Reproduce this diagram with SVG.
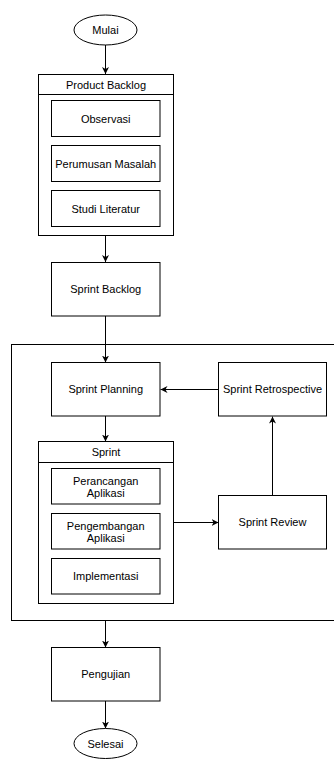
<svg xmlns="http://www.w3.org/2000/svg" width="334" height="760" viewBox="0 0 334 760">
  <defs>
    <style>
      .box { fill: #ffffff; stroke: #000000; stroke-width: 1; }
      .frame { fill: none; stroke: #000000; stroke-width: 1; }
      .edge { fill: none; stroke: #000000; stroke-width: 1; }
      .label { font-family: "Liberation Sans", Arial, sans-serif; font-size: 11px; fill: #000000; text-anchor: middle; dominant-baseline: central; }
    </style>
    <marker id="arrow" viewBox="0 0 10 10" refX="10" refY="5" markerWidth="7" markerHeight="7" markerUnits="userSpaceOnUse" orient="auto">
      <path d="M0,0 L10,5 L0,10 L3,5 z" fill="#000000"/>
    </marker>
  </defs>

  <rect width="334" height="760" fill="#ffffff"/>

  <!-- outer sprint cycle frame (runs past the right edge) -->
  <g id="sprint-cycle">
    <rect class="frame" x="11.5" y="344.5" width="340" height="276"/>
  </g>

  <!-- connectors -->
  <g id="connectors">
    <line class="edge" x1="105.5" y1="45" x2="105.5" y2="74" marker-end="url(#arrow)"/>
    <line class="edge" x1="105.5" y1="236" x2="105.5" y2="262" marker-end="url(#arrow)"/>
    <line class="edge" x1="105.5" y1="316" x2="105.5" y2="362.5" marker-end="url(#arrow)"/>
    <line class="edge" x1="218.5" y1="389.5" x2="160.5" y2="389.5" marker-end="url(#arrow)"/>
    <line class="edge" x1="105.5" y1="416" x2="105.5" y2="441.5" marker-end="url(#arrow)"/>
    <line class="edge" x1="173.5" y1="522.5" x2="218.5" y2="522.5" marker-end="url(#arrow)"/>
    <line class="edge" x1="272.5" y1="495" x2="272.5" y2="416.5" marker-end="url(#arrow)"/>
    <line class="edge" x1="105.5" y1="621" x2="105.5" y2="647.5" marker-end="url(#arrow)"/>
    <line class="edge" x1="105.5" y1="701" x2="105.5" y2="728.5" marker-end="url(#arrow)"/>
  </g>

  <g id="mulai">
    <ellipse class="box" cx="105.5" cy="30" rx="31.5" ry="15"/>
    <text class="label" x="105.5" y="30">Mulai</text>
  </g>

  <g id="product-backlog">
    <rect class="box" x="38.5" y="74.5" width="135" height="161"/>
    <line class="frame" x1="38.5" y1="94.5" x2="173.5" y2="94.5"/>
    <text class="label" x="106" y="84.5">Product Backlog</text>
  </g>
  <g id="observasi">
    <rect class="box" x="51.5" y="100.5" width="108.5" height="36"/>
    <text class="label" x="105.7" y="118.5">Observasi</text>
  </g>
  <g id="perumusan-masalah">
    <rect class="box" x="51.5" y="145.5" width="108.5" height="36"/>
    <text class="label" x="105.7" y="163.5">Perumusan Masalah</text>
  </g>
  <g id="studi-literatur">
    <rect class="box" x="51.5" y="190.5" width="108.5" height="36"/>
    <text class="label" x="105.7" y="208.5">Studi Literatur</text>
  </g>

  <g id="sprint-backlog">
    <rect class="box" x="51.5" y="262.5" width="108.5" height="53.5"/>
    <text class="label" x="105.7" y="289.3">Sprint Backlog</text>
  </g>

  <g id="sprint-planning">
    <rect class="box" x="51.5" y="362.5" width="108.5" height="53.5"/>
    <text class="label" x="105.7" y="389.3">Sprint Planning</text>
  </g>

  <g id="sprint-retrospective">
    <rect class="box" x="218.5" y="362.5" width="108" height="53.5"/>
    <text class="label" x="272.5" y="389.3">Sprint Retrospective</text>
  </g>

  <g id="sprint">
    <rect class="box" x="38.5" y="441.5" width="135" height="162"/>
    <line class="frame" x1="38.5" y1="462.5" x2="173.5" y2="462.5"/>
    <text class="label" x="106" y="452">Sprint</text>
  </g>
  <g id="perancangan-aplikasi">
    <rect class="box" x="51.5" y="468.5" width="108.5" height="35.5"/>
    <text class="label" x="105.7" y="480.5">Perancangan</text>
    <text class="label" x="105.7" y="492.5">Aplikasi</text>
  </g>
  <g id="pengembangan-aplikasi">
    <rect class="box" x="51.5" y="513.5" width="108.5" height="35.5"/>
    <text class="label" x="105.7" y="525.5">Pengembangan</text>
    <text class="label" x="105.7" y="537.5">Aplikasi</text>
  </g>
  <g id="implementasi">
    <rect class="box" x="51.5" y="558.5" width="108.5" height="35.5"/>
    <text class="label" x="105.7" y="576.3">Implementasi</text>
  </g>

  <g id="sprint-review">
    <rect class="box" x="218.5" y="495.5" width="108" height="53.5"/>
    <text class="label" x="272.5" y="522.3">Sprint Review</text>
  </g>

  <g id="pengujian">
    <rect class="box" x="51.5" y="647.5" width="108.5" height="53.5"/>
    <text class="label" x="105.7" y="674.3">Pengujian</text>
  </g>

  <g id="selesai">
    <ellipse class="box" cx="105.5" cy="743.5" rx="31.5" ry="15"/>
    <text class="label" x="105.5" y="743.5">Selesai</text>
  </g>
</svg>
